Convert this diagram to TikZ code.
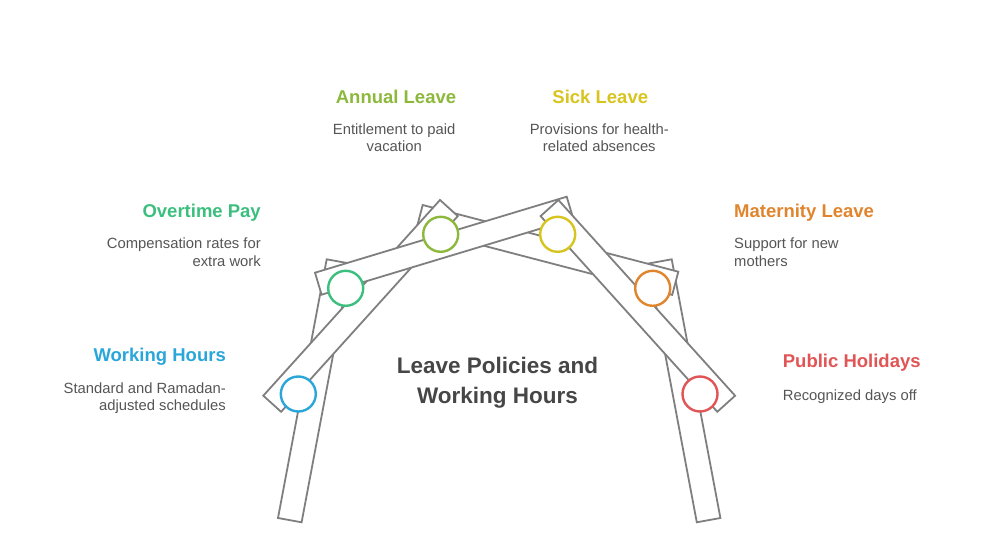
\documentclass[tikz,border=0pt]{standalone}
\usepackage{fontspec}
\setmainfont{Liberation Sans}
\definecolor{cblue}{HTML}{2AA6DA}
\definecolor{cgreen}{HTML}{3CBF7E}
\definecolor{colive}{HTML}{8CB83C}
\definecolor{cyellow}{HTML}{D8C41E}
\definecolor{corange}{HTML}{E0852E}
\definecolor{cred}{HTML}{E05555}
\definecolor{cdesc}{HTML}{555555}
\definecolor{ctitle}{HTML}{464646}
\definecolor{cbeam}{HTML}{7F7F7F}
\begin{document}
\begin{tikzpicture}[x=1pt,y=-1pt,
  beam/.style={draw=cbeam,line width=1.8pt,fill=white,line join=miter},
  joint/.style={circle,draw=#1,line width=2.4pt,fill=white,minimum size=35pt,inner sep=0pt},
  ttl/.style={text=#1,font=\fontsize{18.5}{22}\selectfont\bfseries,inner sep=0pt},
  dsc/.style={text=cdesc,font=\fontsize{14.8}{18}\selectfont,inner sep=0pt},
  ctr/.style={text=ctitle,font=\fontsize{22.5}{27}\selectfont\bfseries,inner sep=0pt}]
\useasboundingbox (0,0) rectangle (996,548);
% beams (drawn back to front)
\draw[beam] (326.7,259.3) -- (350.3,263.6) -- (301.6,522.3) -- (278,518) -- cycle;   % left leg
\draw[beam] (671.7,259.3) -- (648.1,263.6) -- (696.8,522.3) -- (720.4,518) -- cycle; % right leg
\draw[beam] (422.7,205) -- (678.3,271.7) -- (672.2,294.9) -- (416.6,228.2) -- cycle;  % olive to orange
\draw[beam] (263.3,395.7) -- (440,200) -- (457.8,216.1) -- (281.1,411.8) -- cycle;   % blue to olive
\draw[beam] (315,272.7) -- (566.7,196.7) -- (573.3,218.7) -- (321.6,294.7) -- cycle;  % green to yellow
\draw[beam] (735.1,395.7) -- (558.4,200) -- (540.6,216.1) -- (717.3,411.8) -- cycle;  % red to yellow
% joints
\node[joint=cblue]   (jwh) at (298.3,394) {};
\node[joint=cgreen]  (jop) at (345.7,288.3) {};
\node[joint=colive]  (jal) at (440.7,234.3) {};
\node[joint=cyellow] (jsl) at (557.7,234.3) {};
\node[joint=corange] (jml) at (652.7,288.3) {};
\node[joint=cred]    (jph) at (700,394) {};
% centre title
\node[ctr,anchor=base] (c1) at (497.5,373.3) {Leave Policies and};
\node[ctr,anchor=base] (c2) at (497.5,403.3) {Working Hours};
% Working Hours
\node[ttl=cblue,anchor=base east] (wht) at (226,361) {Working Hours};
\node[dsc,anchor=base east] (whd1) at (226,393.5) {Standard and Ramadan-};
\node[dsc,anchor=base east] (whd2) at (226,410.5) {adjusted schedules};
% Overtime Pay
\node[ttl=cgreen,anchor=base east] (opt) at (261,217.7) {Overtime Pay};
\node[dsc,anchor=base east] (opd1) at (261,248.5) {Compensation rates for};
\node[dsc,anchor=base east] (opd2) at (261,266) {extra work};
% Annual Leave
\node[ttl=colive,anchor=base] (alt) at (396,103.3) {Annual Leave};
\node[dsc,anchor=base] (ald1) at (394.2,135) {Entitlement to paid};
\node[dsc,anchor=base] (ald2) at (394.2,152) {vacation};
% Sick Leave
\node[ttl=cyellow,anchor=base] (slt) at (600.3,103.3) {Sick Leave};
\node[dsc,anchor=base] (sld1) at (599.3,135) {Provisions for health-};
\node[dsc,anchor=base] (sld2) at (599.3,152) {related absences};
% Maternity Leave
\node[ttl=corange,anchor=base west] (mlt) at (734,217.7) {Maternity Leave};
\node[dsc,anchor=base west] (mld1) at (734,248.5) {Support for new};
\node[dsc,anchor=base west] (mld2) at (734,266) {mothers};
% Public Holidays
\node[ttl=cred,anchor=base west] (pht) at (782.7,367.3) {Public Holidays};
\node[dsc,anchor=base west] (phd1) at (782.7,400.7) {Recognized days off};
\end{tikzpicture}
\end{document}
